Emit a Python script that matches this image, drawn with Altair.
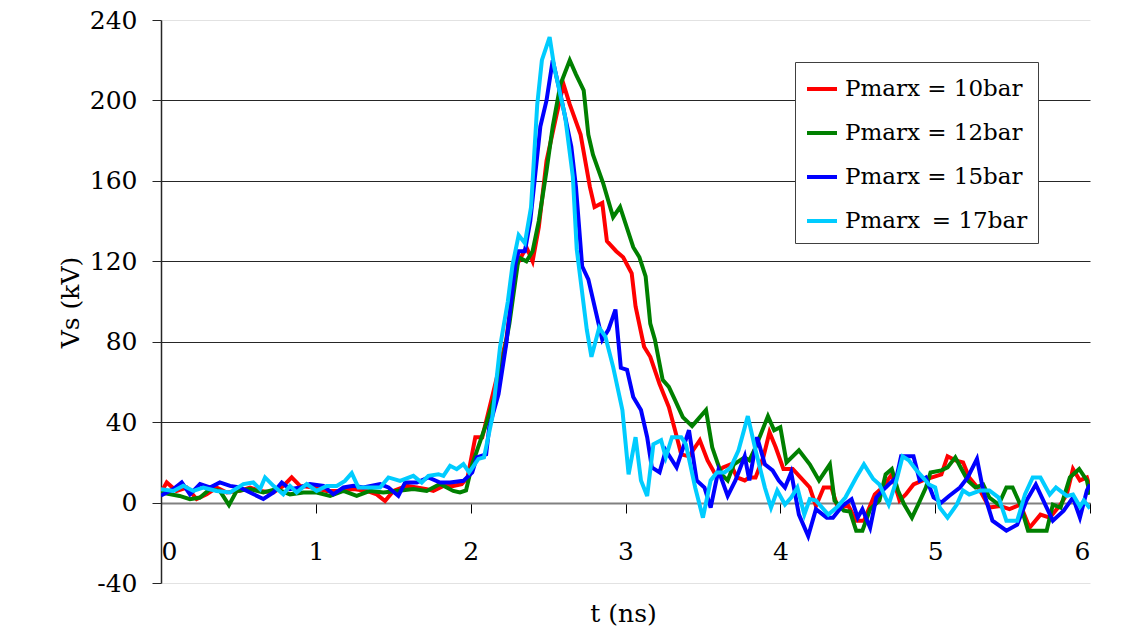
import altair as alt
import pandas as pd

# ---- data (t in ns, Vs in kV) ----
red_t = [0.0, 0.037, 0.10, 0.166, 0.23, 0.295, 0.36, 0.424, 0.51, 0.575, 0.64, 0.726, 0.79, 0.844, 0.898,
         0.984, 1.07, 1.156, 1.243, 1.329, 1.393, 1.447, 1.501, 1.587, 1.652, 1.716, 1.759, 1.824, 1.888,
         1.942, 1.98, 2.03, 2.075, 2.17, 2.23, 2.29, 2.36, 2.40, 2.44, 2.49, 2.555, 2.60, 2.64, 2.71, 2.77,
         2.80, 2.85, 2.88, 2.94, 2.985, 3.04, 3.065, 3.12, 3.16, 3.22, 3.28, 3.32, 3.36, 3.41, 3.48, 3.53,
         3.58, 3.63, 3.68, 3.72, 3.77, 3.80, 3.84, 3.89, 3.93, 3.97, 4.02, 4.08, 4.13, 4.19, 4.23, 4.28,
         4.33, 4.37, 4.44, 4.49, 4.54, 4.61, 4.66, 4.72, 4.77, 4.81, 4.86, 4.92, 4.98, 5.04, 5.08, 5.13,
         5.18, 5.22, 5.29, 5.35, 5.42, 5.48, 5.55, 5.61, 5.68, 5.74, 5.81, 5.85, 5.89, 5.935, 5.98, 6.0]
red_v = [5, 10, 5.8, 7.5, 1.7, 4.1, 7.5, 5.0, 5.8, 7.5, 5.8, 5.0, 8.3, 12.5, 8.3,
         7.5, 5.8, 5.8, 6.7, 5.8, 4.1, 0.8, 5.8, 8.3, 7.5, 6.7, 5.8, 8.3, 8.3,
         9.2, 12.5, 32.5, 32.5, 62.5, 81, 117, 127, 120, 137, 170, 193, 208, 198, 183, 157,
         147, 149, 130, 125, 122, 114, 97.5, 77.5, 72.5, 59, 47.5, 36, 24, 23, 31, 21,
         14, 17.5, 19, 12.5, 11, 12.5, 12.5, 22.5, 35, 27.5, 16.7, 16.7, 12.5, 7.5, -1.7, 7.5,
         7.5, -2.5, -1.7, -9, -9, 4, 7.5, 14, 1, 4, 9, 11, 12.5, 14, 23, 21,
         20, 12.5, 6, -2.5, -1.7, -3.3, -1, -12.5, -6, -7.5, -1, 4, 16.7, 11, 12.5, 7.5]

green_t = [0.0, 0.12, 0.187, 0.252, 0.316, 0.38, 0.439, 0.489, 0.575, 0.661, 0.747, 0.833, 0.92, 1.005,
           1.092, 1.178, 1.264, 1.35, 1.436, 1.523, 1.63, 1.716, 1.802, 1.888, 1.931, 1.97, 2.01, 2.10,
           2.18, 2.25, 2.31, 2.36, 2.40, 2.44, 2.49, 2.53, 2.58, 2.64, 2.68, 2.73, 2.76, 2.79, 2.857, 2.92,
           2.965, 3.05, 3.09, 3.13, 3.16, 3.19, 3.24, 3.28, 3.32, 3.37, 3.43, 3.52, 3.56, 3.62, 3.66, 3.70,
           3.77, 3.80, 3.84, 3.92, 3.96, 4.0, 4.04, 4.12, 4.19, 4.25, 4.32, 4.35, 4.41, 4.45, 4.49, 4.53,
           4.58, 4.64, 4.68, 4.72, 4.76, 4.80, 4.85, 4.89, 4.94, 4.97, 5.04, 5.08, 5.13, 5.17, 5.21, 5.26,
           5.31, 5.35, 5.41, 5.46, 5.50, 5.55, 5.60, 5.65, 5.72, 5.76, 5.81, 5.87, 5.93, 5.98, 6.0]
green_v = [5.0, 3.3, 1.7, 2.5, 6.7, 5.8, -1.3, 5.8, 6.7, 5.0, 6.7, 4.1, 5.0, 5.0,
           3.3, 5.8, 3.3, 5.8, 5.0, 5.8, 6.7, 5.8, 9.2, 5.8, 5.0, 6, 19, 39,
           59, 89, 122, 120, 125, 140, 165, 187, 208, 220, 213, 205, 183, 173, 158.5, 142,
           147, 127, 122, 112.5, 89, 81, 61, 57.5, 51, 42.5, 38, 46, 27.5, 14, 11, 19,
           22.5, 21, 27.5, 43, 36, 37.5, 20, 26, 19, 11, 19, 1, -4, -4.5, -14, -14,
           -3.3, 1, 14, 16.7, 6, -1, -7.5, -1, 7.5, 15, 16, 17.5, 22.5, 16.7, 11, 7.5,
           9, 2.5, -1, 7.5, 7.5, -1, -14, -14, -14, -1, -2.5, 12.5, 16.7, 11, 4]

blue_t = [0.0, 0.08, 0.134, 0.187, 0.252, 0.316, 0.38, 0.446, 0.51, 0.575, 0.661, 0.726, 0.78, 0.833,
          0.898, 0.962, 1.049, 1.113, 1.178, 1.243, 1.307, 1.415, 1.469, 1.533, 1.577, 1.652, 1.727,
          1.802, 1.867, 1.953, 2.01, 2.04, 2.10, 2.12, 2.18, 2.23, 2.29, 2.31, 2.35, 2.385, 2.45, 2.49,
          2.53, 2.58, 2.65, 2.68, 2.72, 2.76, 2.85, 2.89, 2.935, 2.97, 3.01, 3.05, 3.10, 3.14, 3.17, 3.22,
          3.26, 3.33, 3.41, 3.46, 3.51, 3.55, 3.60, 3.66, 3.71, 3.77, 3.80, 3.85, 3.90, 3.95, 3.99, 4.03,
          4.07, 4.12, 4.18, 4.23, 4.30, 4.34, 4.40, 4.46, 4.50, 4.53, 4.58, 4.62, 4.66, 4.70, 4.75, 4.78,
          4.86, 4.90, 4.94, 4.99, 5.04, 5.09, 5.16, 5.21, 5.27, 5.31, 5.37, 5.46, 5.53, 5.59, 5.65, 5.72,
          5.76, 5.83, 5.89, 5.935, 5.98, 6.0]
blue_v = [3.5, 6.7, 10, 4.1, 9.2, 7.5, 10, 8.3, 7.5, 5.0, 1.8, 5.0, 10, 6.7,
          7.5, 9.2, 8.3, 4.1, 7.5, 8.3, 7.5, 9.2, 7.5, 3.3, 10, 10, 12.5,
          10, 10, 10.8, 15, 22.5, 24, 37.5, 54, 79, 119, 125, 125, 140, 187, 200,
          220, 203, 177, 157, 117.5, 111, 81, 86, 96, 67, 66, 52.5, 46, 32.5, 17.5, 15,
          26, 17.5, 36, 11, 7.5, -2.5, 16, 3.3, 11, 23, 11, 32.5, 19, 16, 11, 7.5,
          15, -6, -16.7, -3.3, -7.5, -7.5, -1.7, 1.7, -7.5, -3.3, -12.5, 2.5, 6, 9, 12.5, 23,
          23, 11, 12.5, 2.5, 0, 3.3, 7.5, 12.5, 21.7, 6, -9, -14, -11, 1, 9, -2.5,
          -9, -4, 2.5, -7.5, 6, 9]

cyan_t = [0.0, 0.08, 0.144, 0.209, 0.273, 0.36, 0.446, 0.532, 0.596, 0.64, 0.672, 0.726, 0.79, 0.833,
          0.876, 0.941, 1.005, 1.07, 1.135, 1.188, 1.232, 1.275, 1.35, 1.415, 1.469, 1.544, 1.63, 1.684,
          1.727, 1.792, 1.824, 1.867, 1.91, 1.953, 1.99, 2.05, 2.086, 2.14, 2.19, 2.24, 2.27, 2.31, 2.35,
          2.39, 2.43, 2.46, 2.51, 2.54, 2.61, 2.66, 2.685, 2.75, 2.78, 2.83, 2.87, 2.92, 2.98, 3.02, 3.065,
          3.10, 3.14, 3.18, 3.23, 3.26, 3.30, 3.36, 3.39, 3.45, 3.50, 3.55, 3.59, 3.64, 3.68, 3.73, 3.79,
          3.84, 3.90, 3.94, 3.98, 4.03, 4.07, 4.11, 4.155, 4.19, 4.23, 4.31, 4.37, 4.42, 4.49, 4.54, 4.60,
          4.64, 4.70, 4.75, 4.79, 4.83, 4.88, 4.92, 4.96, 5.0, 5.03, 5.08, 5.14, 5.18, 5.22, 5.29, 5.35,
          5.41, 5.46, 5.53, 5.58, 5.63, 5.68, 5.74, 5.78, 5.85, 5.89, 5.935, 5.96, 6.0]
cyan_v = [6.6, 5.8, 8.4, 5.8, 7.5, 5.8, 5.0, 9.2, 10, 6.7, 12.5, 8.3, 4.1, 8.3,
          5.0, 9.2, 5.8, 8.3, 8.3, 10.8, 14.6, 7.5, 7.5, 7.5, 12.5, 10.8, 13.3, 10,
          13.3, 14.1, 13.3, 18.3, 16.6, 19.1, 15, 21.7, 22.5, 42.5, 77.5, 100, 118, 133, 129,
          147, 198, 220, 231.5, 216.6, 192, 162, 126, 86, 72.5, 87, 82.5, 67.5, 46, 14, 32.5,
          11, 3.3, 29, 31, 22.5, 32.5, 32.5, 29, 7.5, -7.5, 11, 15, 15, 17.5, 26, 43,
          26, 7.5, -2.5, 6, -1, 2.5, 7.5, -6, 1.7, 1, -6, -2, 2.5, 12.5, 19, 11.7,
          9, -1, 11, 23, 21, 16, 12.5, 9, 7.5, -2.5, -7.5, -1, 6, 4, 6, 6,
          2.5, -9, -9, 4, 12.5, 12.5, 4, 7.5, 3.3, 4, -2, 1, -3]

series_names = ["Pmarx = 10bar", "Pmarx = 12bar", "Pmarx = 15bar", "Pmarx\u2009 = 17bar"]
series_colors = ["#ff0000", "#008000", "#0000ff", "#00ccff"]
x_ticks = [0, 1, 2, 3, 4, 5, 6]
y_ticks = [-40, 0, 40, 80, 120, 160, 200, 240]

rows = []
for name, ts, vs in zip(series_names, [red_t, green_t, blue_t, cyan_t], [red_v, green_v, blue_v, cyan_v]):
    for i, (t, v) in enumerate(zip(ts, vs)):
        rows.append({"t": t, "v": v, "series": name, "order": i})
df = pd.DataFrame(rows)

FONT = "DejaVu Serif"
FS = 25
LFS = 23

chart = alt.Chart(df).mark_line(strokeWidth=4, clip=True).encode(
    x=alt.X("t:Q", scale=alt.Scale(domain=[0, 6], nice=False, zero=False),
            axis=alt.Axis(values=x_ticks, title="t (ns)", offset=-80, grid=False,
                          domainColor="#808080", domainWidth=2, tickColor="#000000", tickSize=10,
                          labelFontSize=FS, labelFont=FONT, labelColor="#000", labelPadding=26,
                          labelExpr="'' + datum.value",
                          titleFont=FONT, titleFontSize=FS, titleFontWeight="normal", titleColor="#000",
                          titleX=462, titleY=110, titleBaseline="middle")),
    y=alt.Y("v:Q", scale=alt.Scale(domain=[-40, 240], nice=False, zero=False),
            axis=alt.Axis(values=y_ticks, title="Vs (kV)", grid=True,
                          gridColor={"condition": {"test": "datum.value == 240 || datum.value == -40", "value": "#e2e2e2"},
                                     "value": "#262626"},
                          domainColor="#262626", domainWidth=1.5, tickColor="#262626", tickSize=9,
                          labelFontSize=FS, labelFont=FONT, labelColor="#000", labelPadding=15,
                          labelExpr="'' + datum.value",
                          titleFont=FONT, titleFontSize=FS, titleFontWeight="normal", titleColor="#000",
                          titleAngle=270, titleX=-91, titleY=282, titleBaseline="middle", titleAlign="center")),
    color=alt.Color("series:N", scale=alt.Scale(domain=series_names, range=series_colors),
                    legend=alt.Legend(title=None, orient="none", legendX=634, legendY=42,
                                      strokeColor="#404040", fillColor="#ffffff", padding=10,
                                      symbolType="stroke", symbolSize=900, symbolStrokeWidth=4,
                                      labelFontSize=LFS, labelFont=FONT, labelColor="#000",
                                      labelLimit=400, labelOffset=6, rowPadding=15, cornerRadius=0)),
    order=alt.Order("order:Q"),
).properties(
    width=929, height=563,
    autosize=alt.AutoSizeParams(type="none"),
    padding={"left": 161, "top": 20, "right": 53, "bottom": 54},
    background="#ffffff",
).configure(font=FONT).configure_view(stroke=None)

chart.save("out.html", embed_options={"renderer": "svg", "actions": False})
